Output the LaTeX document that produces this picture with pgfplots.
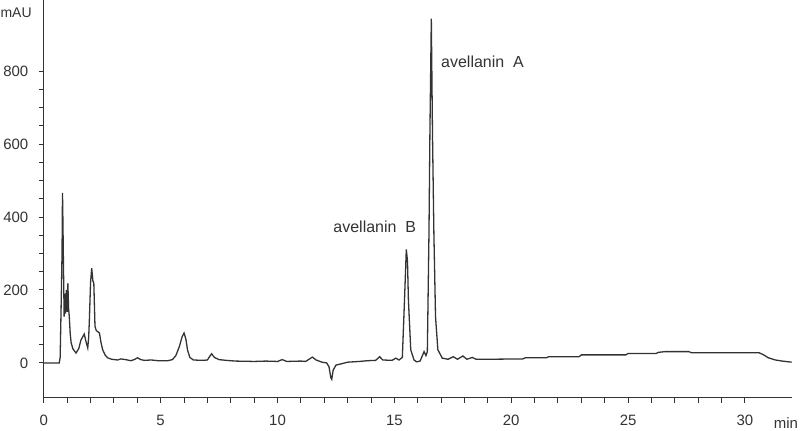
\documentclass[border=0pt]{standalone}
\usepackage{fontspec}
\setmainfont{Liberation Sans}
\usepackage{pgfplots}
\pgfplotsset{compat=1.18}
\definecolor{ink}{HTML}{333333}
\pgfplotsset{frame/.style={
  at={(0,0)}, anchor=south west,
  scale only axis, width=749bp, height=398bp,
  xmin=0, xmax=32, ymin=-96, ymax=994,
  axis x line=bottom, axis y line=left,
  axis line style={-, draw=ink, line width=1bp},
  xtick={0,5,...,30}, ytick={0,200,...,800},
  minor x tick num=4, minor y tick num=3,
  tick align=outside, major tick length=5bp, minor tick length=5bp,
  tick style={ink, line width=1bp}}}
\begin{document}
\begin{tikzpicture}
\path (-43.5bp,-33bp) rectangle (757.3bp,398bp);
\begin{axis}[
  frame,
  /pgf/number format/assume math mode=true,
  tick label style={font=\fontsize{15bp}{17bp}\selectfont, text=ink},
  xticklabel style={yshift=-9bp},
  yticklabel style={xshift=-7bp},
  xlabel={min},
  xlabel style={at={(axis description cs:1,0)}, anchor=base west, inner sep=0pt, xshift=-18bp, yshift=-31bp, font=\fontsize{15bp}{17bp}\selectfont, text=ink},
  ylabel={mAU},
  ylabel style={rotate=-90, at={(axis description cs:0,1)}, anchor=east, inner sep=0pt, xshift=-12bp, yshift=-12bp, font=\fontsize{14bp}{16bp}\selectfont, text=ink},
]
\addplot[ink, line width=1.3bp] coordinates {
(0,0) (0.66,0) (0.70,15) (0.74,150) (0.78,300) (0.80,466) (0.82,380) (0.84,274)
(0.87,127) (0.90,190) (0.93,135) (0.96,200) (1.00,140) (1.03,218) (1.06,150)
(1.09,127) (1.13,80) (1.17,55) (1.25,38) (1.38,27) (1.50,40) (1.59,63) (1.67,72)
(1.73,79) (1.80,60) (1.88,41) (1.92,70) (1.95,118) (2.00,220) (2.05,260) (2.10,225)
(2.14,219) (2.19,100) (2.25,88) (2.31,86) (2.38,82) (2.45,55) (2.52,36) (2.62,22)
(2.73,14) (2.9,10) (3.16,8) (3.3,11) (3.5,9) (3.73,6) (3.9,10) (4.01,14) (4.15,9)
(4.3,7) (4.6,8) (4.9,6) (5.3,6) (5.5,9) (5.65,20) (5.8,45) (5.92,72) (6.0,82)
(6.08,65) (6.15,35) (6.25,15) (6.4,8) (6.8,7) (7.0,8) (7.1,18) (7.18,25) (7.3,15)
(7.5,9) (7.8,7) (8.2,5) (9.0,4) (9.5,5) (10.0,4) (10.2,9) (10.4,4) (11.0,5)
(11.2,4) (11.3,8) (11.49,16) (11.65,8) (11.9,2) (12.1,0) (12.2,-10) (12.28,-40)
(12.32,-45) (12.38,-20) (12.5,-6) (12.7,-3) (13.0,2) (13.5,4) (13.85,6) (14.2,7)
(14.37,17) (14.5,8) (14.9,7) (15.06,13) (15.2,8) (15.34,15) (15.42,150) (15.51,311)
(15.56,280) (15.60,173) (15.70,36) (15.84,8) (15.95,3) (16.1,5) (16.27,31)
(16.35,20) (16.41,31) (16.48,356) (16.52,630) (16.58,944) (16.63,630) (16.69,355)
(16.76,127) (16.86,36) (17.05,13) (17.3,10) (17.52,17) (17.7,10) (17.93,19)
(18.1,10) (18.33,15) (18.5,10) (19.0,10) (20.5,11) (20.6,14) (21.5,14) (21.6,17)
(22.9,17) (23.0,22) (24.9,22) (25.0,26) (26.2,26) (26.3,29) (26.6,31) (27.6,31)
(27.7,28) (30.6,28) (30.8,22) (31.0,14) (31.3,8) (31.6,5) (32.0,2)
};
\node[font=\fontsize{16bp}{18bp}\selectfont, text=ink] at (axis cs:14.16,372) {avellanin\ \ B};
\node[font=\fontsize{16bp}{18bp}\selectfont, text=ink] at (axis cs:18.77,825) {avellanin\ \ A};
\end{axis}
\begin{axis}[frame, xticklabels={}, yticklabels={}]
\addplot[draw=none] coordinates {(0,0) (32,0)};
\end{axis}
\end{tikzpicture}
\end{document}
